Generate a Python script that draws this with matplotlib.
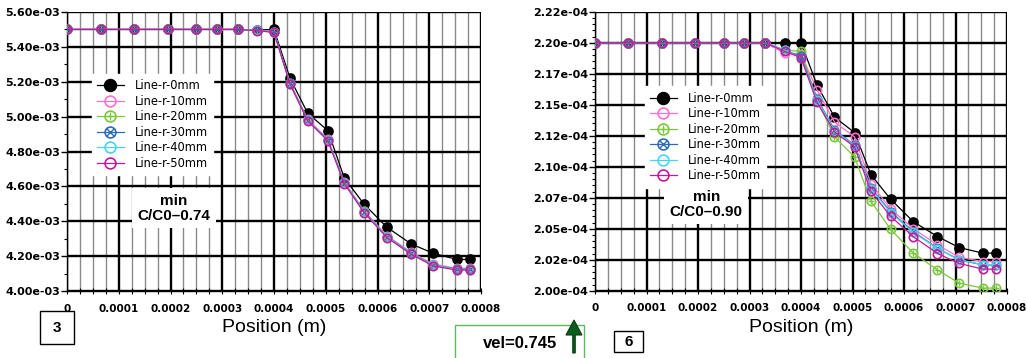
import numpy as np
import matplotlib
matplotlib.use("Agg")
import matplotlib.pyplot as plt
from matplotlib.patches import Rectangle
from matplotlib.legend_handler import HandlerTuple

# positions along the line (m), shared by both panels
position = [0, 0.000065, 0.00013, 0.000195, 0.00025, 0.00029, 0.00033, 0.000368, 0.0004,
            0.000431, 0.000465, 0.000504, 0.000536, 0.000574, 0.000618, 0.000665, 0.000707,
            0.000753, 0.000779]

series_labels = ["Line-r-0mm", "Line-r-10mm", "Line-r-20mm", "Line-r-30mm", "Line-r-40mm", "Line-r-50mm"]

# panel 3 (values in e-03)
p3_r0 = [5.50, 5.50, 5.50, 5.50, 5.50, 5.50, 5.50, 5.497, 5.50, 5.22, 5.02, 4.92, 4.647, 4.498, 4.366, 4.270, 4.217, 4.181, 4.181]
p3_r10 = [5.50, 5.50, 5.50, 5.50, 5.50, 5.50, 5.50, 5.495, 5.487, 5.195, 4.985, 4.870, 4.625, 4.460, 4.318, 4.222, 4.155, 4.130, 4.130]
p3_r20 = [5.50, 5.50, 5.50, 5.50, 5.50, 5.50, 5.50, 5.494, 5.485, 5.19, 4.98, 4.866, 4.620, 4.456, 4.312, 4.217, 4.150, 4.126, 4.126]
p3_r30 = [5.50, 5.50, 5.50, 5.50, 5.50, 5.50, 5.50, 5.494, 5.485, 5.19, 4.98, 4.866, 4.620, 4.455, 4.311, 4.216, 4.149, 4.125, 4.125]
p3_r40 = [5.50, 5.50, 5.50, 5.50, 5.50, 5.50, 5.50, 5.494, 5.484, 5.188, 4.978, 4.864, 4.618, 4.453, 4.309, 4.214, 4.147, 4.123, 4.123]
p3_r50 = [5.50, 5.50, 5.50, 5.50, 5.50, 5.50, 5.50, 5.493, 5.483, 5.186, 4.976, 4.862, 4.615, 4.450, 4.306, 4.211, 4.144, 4.120, 4.120]

# panel 6 (values in e-04)
p6_r0 = [2.200, 2.200, 2.200, 2.200, 2.200, 2.200, 2.200, 2.200, 2.200, 2.166, 2.140, 2.1275, 2.0934, 2.0738, 2.0557, 2.0437, 2.0348, 2.0303, 2.0303]
p6_r10 = [2.200, 2.200, 2.200, 2.200, 2.200, 2.200, 2.200, 2.1915, 2.191, 2.162, 2.136, 2.124, 2.086, 2.066, 2.050, 2.037, 2.027, 2.0235, 2.0235]
p6_r20 = [2.200, 2.200, 2.200, 2.200, 2.200, 2.200, 2.200, 2.194, 2.193, 2.154, 2.124, 2.108, 2.072, 2.0496, 2.0303, 2.0168, 2.0061, 2.0021, 2.0021]
p6_r30 = [2.200, 2.200, 2.200, 2.200, 2.200, 2.200, 2.200, 2.194, 2.189, 2.155, 2.1297, 2.1175, 2.0827, 2.0638, 2.0477, 2.0343, 2.0249, 2.0208, 2.0208]
p6_r40 = [2.200, 2.200, 2.200, 2.200, 2.200, 2.200, 2.200, 2.194, 2.188, 2.154, 2.129, 2.117, 2.082, 2.063, 2.047, 2.034, 2.025, 2.021, 2.021]
p6_r50 = [2.200, 2.200, 2.200, 2.200, 2.200, 2.200, 2.200, 2.193, 2.188, 2.152, 2.128, 2.116, 2.080, 2.060, 2.0436, 2.030, 2.022, 2.0174, 2.0174]

x_ticks = [0, 0.0001, 0.0002, 0.0003, 0.0004, 0.0005, 0.0006, 0.0007, 0.0008]
x_ticklabels = ["0", "0.0001", "0.0002", "0.0003", "0.0004", "0.0005", "0.0006", "0.0007", "0.0008"]

p3_yticks = [4.0e-3, 4.2e-3, 4.4e-3, 4.6e-3, 4.8e-3, 5.0e-3, 5.2e-3, 5.4e-3, 5.6e-3]
p3_yticklabels = ["4.00e-03", "4.20e-03", "4.40e-03", "4.60e-03", "4.80e-03", "5.00e-03", "5.20e-03", "5.40e-03", "5.60e-03"]
p6_yticks = [2.0e-4, 2.025e-4, 2.05e-4, 2.075e-4, 2.1e-4, 2.125e-4, 2.15e-4, 2.175e-4, 2.2e-4, 2.225e-4]
p6_yticklabels = ["2.00e-04", "2.02e-04", "2.05e-04", "2.07e-04", "2.10e-04", "2.12e-04", "2.15e-04", "2.17e-04", "2.20e-04", "2.22e-04"]

colors = ["black", "#ff6fd0", "#7cc83c", "#2f6db3", "#45d5f0", "#c8179a"]
overlay = [None, None, "+", "x", None, None]


def draw_panel(ax, series, scale, yticks, yticklabels, minor_div, legend_xy, note, note_xy):
    x = np.array(position)
    handles = []
    for vals, c, ov in zip(series, colors, overlay):
        y = np.array(vals) * scale
        filled = c == "black"
        ln, = ax.plot(x, y, color=c, lw=0.9, marker="o", ms=6.5 if filled else 6,
                      mfc=c if filled else "none", mec=c, mew=1.2, zorder=3)
        h = ln
        if ov is not None:
            ovl, = ax.plot(x, y, ls="none", marker=ov, ms=4.5, color=c, mew=1.0, zorder=3)
            h = (ln, ovl)
        handles.append(h)

    ax.set_xlim(0, 0.0008)
    ax.set_ylim(yticks[0], yticks[-1])
    ax.set_xticks(x_ticks)
    ax.set_xticklabels(x_ticklabels)
    ax.set_xticks(np.arange(0, 0.0008, 0.000025), minor=True)
    ax.set_yticks(yticks)
    ax.set_yticklabels(yticklabels)
    step = yticks[1] - yticks[0]
    ax.set_yticks(np.arange(yticks[0], yticks[-1], step / minor_div), minor=True)

    ax.grid(which="major", color="black", lw=1.7, zorder=1)
    ax.grid(which="minor", axis="x", color="#8a8a8a", lw=1.0, zorder=1)
    for s in ["top", "right"]:
        ax.spines[s].set_visible(False)
    ax.spines["left"].set_linewidth(1.0)
    ax.spines["bottom"].set_linewidth(1.0)

    ax.tick_params(axis="y", which="major", length=4, width=1, pad=1, labelsize=8)
    ax.tick_params(axis="y", which="minor", length=2, width=0.8)
    ax.tick_params(axis="x", which="both", direction="inout", length=4, width=0.8, pad=7, labelsize=7.5)
    for lab in ax.get_xticklabels() + ax.get_yticklabels():
        lab.set_fontweight("bold")

    ax.set_xlabel("Position (m)", fontsize=14, family="Liberation Sans", labelpad=4)

    leg = ax.legend(handles, series_labels, loc="upper left", bbox_to_anchor=legend_xy,
                    borderaxespad=0, fontsize=8.3, labelspacing=0.22, handlelength=2.3,
                    handletextpad=1.0, markerscale=1.3, borderpad=0.45, fancybox=False,
                    framealpha=1, facecolor="white", edgecolor="white",
                    handler_map={tuple: HandlerTuple(ndivide=1)})
    leg.set_zorder(5)

    ax.text(note_xy[0], note_xy[1], note, transform=ax.transAxes, ha="center", va="center",
            fontsize=11, fontweight="bold", family="Liberation Sans", linespacing=1.1, zorder=6,
            bbox=dict(facecolor="white", edgecolor="none", pad=4))


fig = plt.figure(figsize=(10.27, 3.58), dpi=100)
ax1 = fig.add_axes([67 / 1027, 67 / 358, 414 / 1027, 279 / 358])
ax2 = fig.add_axes([595 / 1027, 67.3 / 358, 412 / 1027, 279 / 358])

draw_panel(ax1, [p3_r0, p3_r10, p3_r20, p3_r30, p3_r40, p3_r50], 1e-3,
           p3_yticks, p3_yticklabels, 2, (0.06, 0.778), "min\nC/C0\u20130.74", (0.258, 0.297))
draw_panel(ax2, [p6_r0, p6_r10, p6_r20, p6_r30, p6_r40, p6_r50], 1e-4,
           p6_yticks, p6_yticklabels, 5, (0.121, 0.732), "min\nC/C0\u20130.90", (0.27, 0.31))


def fig_box(x0, y0, x1, y1, edge):
    # pixel coords from the top-left corner
    r = Rectangle((x0 / 1027, 1 - y1 / 358), (x1 - x0) / 1027, (y1 - y0) / 358,
                  transform=fig.transFigure, facecolor="white", edgecolor=edge, lw=1.0,
                  clip_on=False)
    fig.patches.append(r)


fig_box(40, 311, 74, 344, "black")
fig.text(57 / 1027, 1 - 328 / 358, "3", ha="center", va="center", fontsize=11,
         fontweight="bold", family="Liberation Sans")
fig_box(614, 331, 643, 352, "black")
fig.text(628.5 / 1027, 1 - 342 / 358, "6", ha="center", va="center", fontsize=11,
         fontweight="bold", family="Liberation Sans")

fig_box(455, 325, 584, 368, "#5cb85c")
fig.text(520 / 1027, 1 - 343 / 358, "vel=0.745", ha="center", va="center", fontsize=12,
         fontweight="bold", family="Liberation Sans")
fig.patches.append(matplotlib.patches.FancyArrow(
    574 / 1027, 1 - 353 / 358, 0, 33 / 358, width=2.5 / 1027, head_width=16 / 1027,
    head_length=15 / 358, length_includes_head=True, transform=fig.transFigure,
    facecolor="#0b5d1e", edgecolor="#0b3d12", lw=0.8))
fig.add_artist(matplotlib.patches.Ellipse((574 / 1027, 1 - 353 / 358), 5 / 1027, 5 / 358,
                                           transform=fig.transFigure, color="black"))

fig.savefig("out.png", dpi=100)
